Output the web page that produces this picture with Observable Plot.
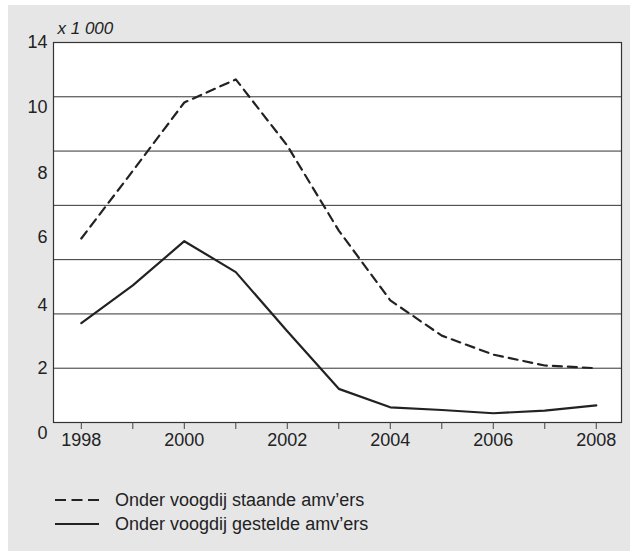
<!DOCTYPE html>
<html><head><meta charset="utf-8">
<script src="https://cdn.jsdelivr.net/npm/d3@7"></script>
<script src="https://cdn.jsdelivr.net/npm/@observablehq/plot@0.6"></script>
<style>
html,body{margin:0;padding:0;background:#fff;}
#panel{position:absolute;left:8px;top:5px;width:622px;height:546px;background:#e6e6e7;font-family:"Liberation Sans",Arial,sans-serif;color:#222;}
#chart{position:absolute;left:0;top:0;}
#legend{position:absolute;left:47px;top:483px;font-size:18px;}
.item{display:flex;align-items:center;height:24px;}
.item svg{margin-right:16px;display:block;}
</style></head><body>
<div id="panel"><div id="chart"></div><div id="legend"></div></div>
<script>
const years = [1998, 1999, 2000, 2001, 2002, 2003, 2004, 2005, 2006, 2007, 2008];
const staande = [6.78, 9.27, 11.79, 12.64, 10.2, 7.07, 4.5, 3.2, 2.5, 2.1, 2.0];
const gestelde = [3.66, 5.05, 6.68, 5.54, 3.36, 1.24, 0.56, 0.46, 0.34, 0.44, 0.63];
const seriesNames = ["Onder voogdij staande amv\u2019ers", "Onder voogdij gestelde amv\u2019ers"];
const xTickLabels = [1998, 2000, 2002, 2004, 2006, 2008];
const yGridValues = [2, 4, 6, 8, 10, 12];
const yTickLabels = ["14", "10", "8", "6", "4", "2", "0"];
const yTickLabelAt = [14, 11.6, 9.17, 6.82, 4.31, 2, -0.41];
const unitLabel = "x 1 000";

const rows = years.flatMap((yr, i) => [
  {year: yr, value: staande[i], series: seriesNames[0]},
  {year: yr, value: gestelde[i], series: seriesNames[1]}
]);

const chart = Plot.plot({
  width: 622, height: 460,
  marginLeft: 45, marginRight: 9, marginTop: 37, marginBottom: 43,
  style: {background: "transparent", fontFamily: "'Liberation Sans', Arial, sans-serif", fontSize: "18px", color: "#222"},
  x: {domain: [1997.46, 2008.49], axis: null},
  y: {domain: [0, 14], axis: null},
  marks: [
    Plot.frame({fill: "white", stroke: null}),
    Plot.ruleY(yGridValues, {stroke: "#333", strokeWidth: 1}),
    Plot.frame({stroke: "#333", strokeWidth: 1.2}),
    Plot.axisX(years, {tickSize: 7, tickFormat: () => "", stroke: "#444", label: null}),
    Plot.axisX(xTickLabels, {tickSize: 0, tickPadding: 11, tickFormat: d => String(d), fontSize: 18, fill: "#222", label: null}),
    Plot.axisY(yTickLabelAt, {tickSize: 0, tickPadding: 6, tickFormat: d => yTickLabels[yTickLabelAt.indexOf(d)], fontSize: 18, fill: "#222", label: null}),
    Plot.text([unitLabel], {text: d => d, frameAnchor: "top-left", dx: 4, dy: -14, lineAnchor: "middle", textAnchor: "start", fontStyle: "italic", fontSize: 17, fill: "#222"}),
    Plot.line(rows.filter(d => d.series === seriesNames[0]), {x: "year", y: "value", stroke: "#222", strokeWidth: 2.2, strokeDasharray: "9,6"}),
    Plot.line(rows.filter(d => d.series === seriesNames[1]), {x: "year", y: "value", stroke: "#222", strokeWidth: 2.2})
  ]
});
document.getElementById("chart").appendChild(chart);

const legend = document.getElementById("legend");
seriesNames.forEach((name, i) => {
  const item = document.createElement("div");
  item.className = "item";
  item.innerHTML = `<svg width="44" height="10"><line x1="0" x2="44" y1="5" y2="5" stroke="#222" stroke-width="2" ${i === 0 ? 'stroke-dasharray="11,5.5"' : ''}/></svg><span>${name}</span>`;
  legend.appendChild(item);
});
</script>
</body></html>
